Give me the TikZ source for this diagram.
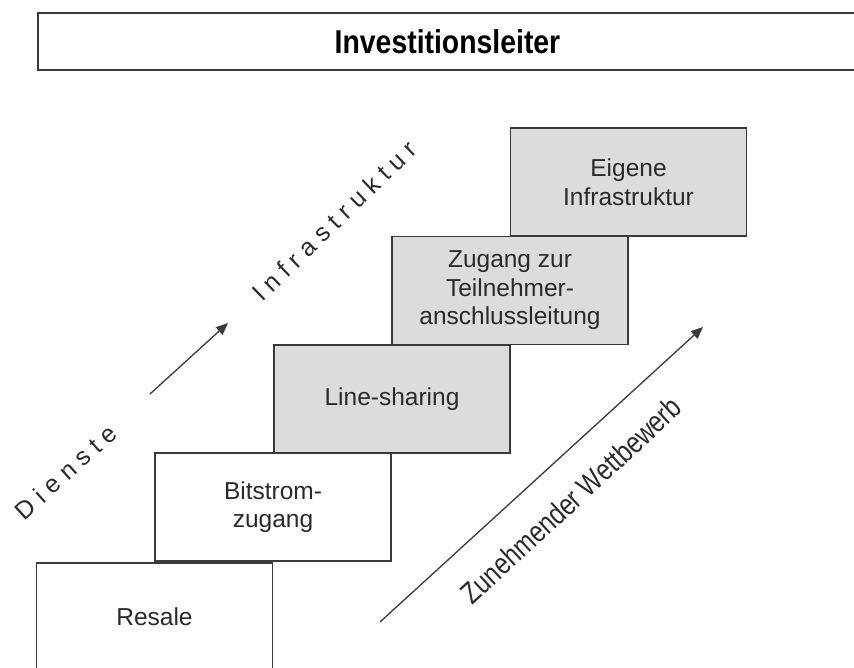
\documentclass[tikz,border=0pt]{standalone}
\usepackage{fontspec}
\setmainfont{Liberation Sans}
\newfontfamily\spacedfont[LetterSpace=28]{Liberation Sans}
\usetikzlibrary{arrows.meta}
\definecolor{boxgray}{HTML}{DCDCDC}
\definecolor{linegray}{HTML}{3A3A3A}
\definecolor{textgray}{HTML}{2A2A2A}
\tikzset{
  stepbox/.style={draw=linegray, line width=1.4pt, fill=white, minimum width=236pt, minimum height=108pt, inner sep=0pt, text=textgray, font=\fontsize{24.5}{28.5}\selectfont, align=center},
  graybox/.style={stepbox, fill=boxgray},
  titlebox/.style={draw=linegray, line width=1.6pt, fill=white, minimum width=830pt, minimum height=57pt, inner sep=0pt, anchor=west},
  arrowline/.style={draw=linegray, line width=1.3pt, -{Triangle[length=12pt,width=10pt]}},
  sidelabel/.style={text=textgray, inner sep=0pt}
}
\begin{document}
\begin{tikzpicture}[x=1pt,y=-1pt]
\useasboundingbox (0,0) rectangle (854,668);
\clip (0,0) rectangle (854,668);
\fill[white] (0,0) rectangle (854,668);
% title
\node[titlebox] (titlebox) at (37,41.5) {};
\node[text=black, font=\fontsize{33}{36}\selectfont\bfseries] (title) at (447.5,42) {\scalebox{0.86}[1]{Investitionsleiter}};
% steps
\node[stepbox] (resale) at (154.5,617) {Resale};
\node[stepbox] (bitstrom) at (273,507) {Bitstrom-\\zugang};
\node[graybox] (linesharing) at (392,399) {Line-sharing};
\node[graybox] (zugang) at (510,290.5) {Zugang zur\\Teilnehmer-\\anschlussleitung};
\node[graybox] (eigene) at (628.5,182) {Eigene\\Infrastruktur};
% small arrow
\coordinate (sa) at (150,394);
\coordinate (sb) at (228,323);
\draw[arrowline] (sa) -- (sb);
% big arrow
\coordinate (ba) at (380,622);
\coordinate (bb) at (703,327);
\draw[arrowline] (ba) -- (bb);
% labels
\node[sidelabel, rotate=42, font=\spacedfont\fontsize{25}{27}\selectfont] (dienste) at (66,472) {Dienste};
\node[sidelabel, rotate=44, font=\spacedfont\fontsize{25}{27}\selectfont] (infra) at (334,221) {Infrastruktur};
\node[sidelabel, rotate=42.7, font=\fontsize{30}{32}\selectfont] (wettbewerb) at (571,500) {\scalebox{0.81}[1]{Zunehmender Wettbewerb}};
\end{tikzpicture}
\end{document}
